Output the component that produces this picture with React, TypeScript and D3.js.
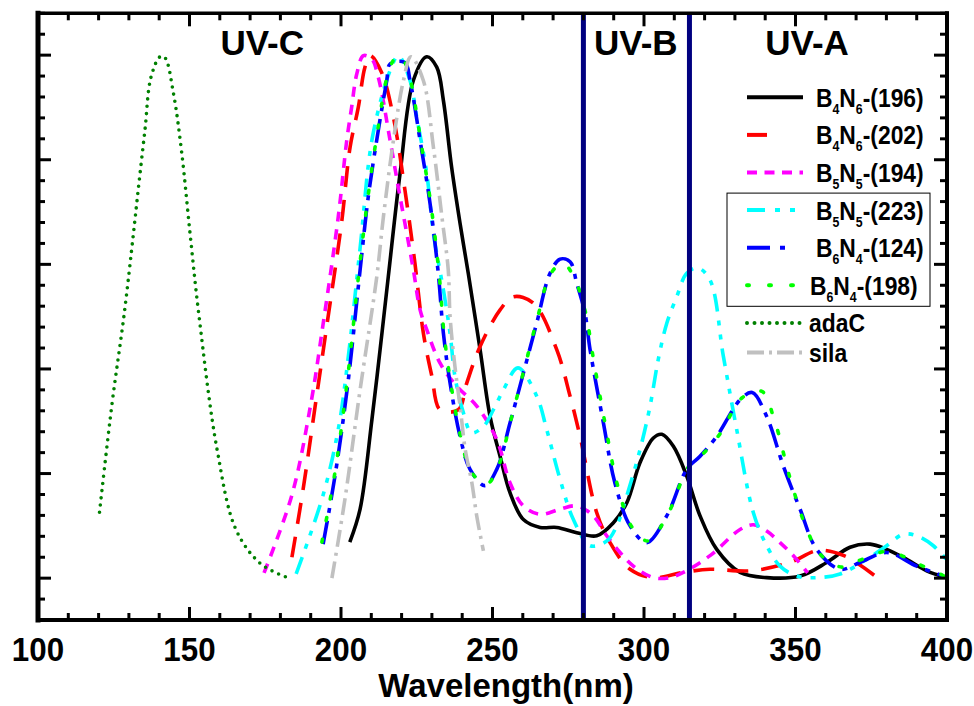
import React, { useEffect, useRef } from 'react';
import * as d3 from 'd3';

type Pt = [number, number];

// wavelength (nm), normalised absorbance
const b4n6_196: Pt[] = [
  [202.9, 0.069], [206.3, 0.132], [210.2, 0.303], [212.9, 0.437], [215.6, 0.576], [219.5, 0.774],
  [223.9, 0.952], [228.3, 0.997], [231.6, 0.977], [233.8, 0.913], [236.5, 0.786], [239.3, 0.678],
  [242.0, 0.583], [245.9, 0.437], [249.2, 0.309], [252.5, 0.233], [255.8, 0.163], [260.2, 0.112],
  [265.7, 0.097], [271.2, 0.097], [277.8, 0.087], [284.4, 0.081], [289.9, 0.106], [294.3, 0.144],
  [298.7, 0.221], [303.1, 0.268], [305.9, 0.275], [309.7, 0.252], [314.1, 0.195], [318.5, 0.119],
  [324.0, 0.055], [331.7, 0.011], [340.5, 0.001], [351.5, 0.004], [360.3, 0.030], [368.0, 0.059],
  [374.6, 0.065], [380.1, 0.055], [386.7, 0.036], [393.3, 0.014], [399.4, 0.002],
];

const b4n6_202: Pt[] = [
  [183.8, 0.040], [187.5, 0.170], [191.5, 0.330], [195.5, 0.490], [200.2, 0.680], [203.0, 0.824],
  [205.7, 0.900], [207.9, 0.977], [209.6, 0.999], [213.4, 0.967], [217.3, 0.881], [221.1, 0.742],
  [224.4, 0.602], [227.2, 0.468], [230.0, 0.386], [232.7, 0.322], [238.7, 0.322], [241.5, 0.373],
  [245.9, 0.443], [252.5, 0.513], [256.9, 0.538], [263.5, 0.526], [271.2, 0.437], [275.6, 0.348],
  [278.9, 0.271], [284.4, 0.125], [288.8, 0.068], [295.4, 0.017], [303.1, 0.001], [313.0, 0.011],
  [321.8, 0.017], [335.0, 0.014], [348.2, 0.030], [357.5, 0.053], [366.4, 0.042], [376.3, 0.004],
];

const b5n5_194: Pt[] = [
  [174.6, 0.010], [183.8, 0.159], [190.0, 0.332], [194.1, 0.486], [199.1, 0.691], [201.9, 0.837],
  [203.5, 0.900], [205.2, 0.964], [207.4, 0.999], [210.1, 0.993], [212.3, 0.958], [216.2, 0.837],
  [218.9, 0.748], [223.9, 0.589], [226.1, 0.513], [228.3, 0.475], [232.7, 0.411], [238.2, 0.367],
  [244.8, 0.329], [251.4, 0.265], [255.8, 0.182], [260.2, 0.138], [265.7, 0.122], [272.3, 0.132],
  [277.8, 0.138], [283.3, 0.119], [287.7, 0.081], [292.1, 0.049], [296.5, 0.023], [303.1, 0.001],
  [308.6, 0.001], [313.0, 0.011], [321.8, 0.043], [331.7, 0.093], [336.1, 0.102], [340.5, 0.090],
  [344.9, 0.068], [349.3, 0.043], [354.0, 0.010],
];

const b5n5_223: Pt[] = [
  [185.2, 0.008], [194.1, 0.159], [199.2, 0.288], [202.3, 0.418], [206.3, 0.631], [210.5, 0.847],
  [216.5, 0.975], [218.9, 0.999], [222.8, 0.951], [225.0, 0.881], [228.3, 0.774], [230.5, 0.659],
  [233.8, 0.551], [236.0, 0.468], [237.6, 0.386], [240.4, 0.316], [243.1, 0.278], [247.0, 0.290],
  [250.3, 0.322], [253.6, 0.360], [258.4, 0.402], [264.6, 0.348], [267.9, 0.284], [272.3, 0.189],
  [276.7, 0.112], [282.2, 0.062], [287.7, 0.071], [291.0, 0.100], [294.3, 0.157], [298.7, 0.246],
  [302.0, 0.329], [304.7, 0.418], [307.5, 0.487], [310.8, 0.538], [314.1, 0.583], [317.8, 0.593],
  [321.8, 0.570], [326.2, 0.424], [330.6, 0.284], [336.1, 0.125], [340.5, 0.062], [344.9, 0.023],
  [350.4, 0.004], [357.0, 0.001], [364.7, 0.008], [373.5, 0.036], [380.1, 0.062], [385.6, 0.084],
  [390.0, 0.081], [395.5, 0.062], [399.7, 0.036],
];

const b6n4_124: Pt[] = [
  [194.1, 0.065], [198.2, 0.202], [202.3, 0.374], [206.3, 0.589], [209.0, 0.729], [212.3, 0.856],
  [215.1, 0.951], [216.2, 0.983], [221.1, 0.986], [222.8, 0.951], [226.1, 0.837], [229.4, 0.716],
  [232.1, 0.583], [233.8, 0.468], [236.0, 0.373], [239.3, 0.271], [242.6, 0.208], [247.5, 0.177],
  [251.4, 0.208], [255.8, 0.297], [260.2, 0.392], [264.6, 0.488], [269.0, 0.583], [272.3, 0.610],
  [275.6, 0.605], [277.8, 0.564], [280.5, 0.507], [282.2, 0.437], [286.6, 0.297], [290.4, 0.182],
  [295.4, 0.100], [300.9, 0.068], [307.5, 0.119], [314.1, 0.208], [318.5, 0.233], [324.0, 0.271],
  [331.7, 0.341], [335.7, 0.355], [340.5, 0.309], [346.0, 0.214], [351.5, 0.132], [357.0, 0.055],
  [364.7, 0.017], [371.3, 0.030], [380.1, 0.049], [390.0, 0.023], [398.8, 0.004],
];

const b6n4_198: Pt[] = [
  [193.7, 0.069], [198.0, 0.202], [202.0, 0.374], [206.0, 0.589], [208.9, 0.729], [212.2, 0.860],
  [214.9, 0.951], [216.8, 0.985], [218.9, 1.000], [221.1, 0.986], [223.1, 0.948], [226.4, 0.833],
  [229.7, 0.713], [232.4, 0.580], [234.0, 0.468], [236.3, 0.370], [239.6, 0.268], [242.9, 0.204],
  [247.9, 0.179], [251.8, 0.212], [256.1, 0.303], [260.4, 0.398], [264.7, 0.494], [269.3, 0.583],
  [273.3, 0.602], [277.3, 0.570], [280.9, 0.503], [282.9, 0.433], [287.2, 0.294], [291.2, 0.179],
  [296.1, 0.097], [301.4, 0.071], [308.0, 0.124], [314.6, 0.212], [319.2, 0.236], [325.1, 0.276],
  [332.4, 0.345], [338.9, 0.357], [343.0, 0.303], [348.3, 0.189], [353.5, 0.097], [358.1, 0.046],
  [365.4, 0.021], [372.0, 0.036], [380.6, 0.051], [390.5, 0.027], [399.1, 0.004],
];

const adaC: Pt[] = [
  [120.3, 0.126], [124.4, 0.332], [128.4, 0.503], [131.5, 0.659], [133.1, 0.744], [135.3, 0.857],
  [137.3, 0.958], [140.3, 0.997], [141.9, 0.995], [144.7, 0.927], [147.4, 0.815], [150.2, 0.658],
  [153.1, 0.503], [159.1, 0.246], [165.4, 0.092], [173.6, 0.027], [182.8, 0.000],
];

const sila: Pt[] = [
  [197.0, 0.000], [201.3, 0.151], [206.3, 0.360], [211.8, 0.576], [214.0, 0.691], [217.3, 0.837],
  [220.6, 0.951], [223.1, 0.997], [227.2, 0.951], [230.5, 0.824], [233.3, 0.691], [235.4, 0.589],
  [236.0, 0.500], [237.6, 0.405], [239.3, 0.329], [241.0, 0.246], [243.2, 0.182], [244.8, 0.119],
  [247.0, 0.052],
];

const seriesNames = ['B4N6-(196)', 'B4N6-(202)', 'B5N5-(194)', 'B5N5-(223)', 'B6N4-(124)', 'B6N4-(198)', 'adaC', 'sila'];
const seriesData = [b4n6_196, b4n6_202, b5n5_194, b5n5_223, b6n4_124, b6n4_198, adaC, sila];

const xTickLabels = [100, 150, 200, 250, 300, 350, 400];
const uvBounds = [280, 315];
const uvLabels = ['UV-C', 'UV-B', 'UV-A'];

export default function App() {
  const svgRef = useRef<SVGSVGElement>(null);

  useEffect(() => {
    if (!svgRef.current) return;
    const width = 974;
    const height = 706;
    const left = 38, right = 947, top = 13.3, bottom = 620;
    const font = '"Liberation Sans", Arial, sans-serif';

    const svg = d3.select(svgRef.current);
    svg.selectAll('*').remove();
    svg.attr('width', width).attr('height', height).attr('viewBox', `0 0 ${width} ${height}`);
    svg.append('rect').attr('width', width).attr('height', height).attr('fill', '#fff');

    const x = d3.scaleLinear().domain([100, 400]).range([left, right]);
    const y = d3.scaleLinear().domain([-0.08, 1.08]).range([bottom, top]);

    const styles = [
      { color: '#000000', dash: null, cap: 'butt', legendDash: null },
      { color: '#FF0000', dash: '21,13', cap: 'butt', legendDash: '20,60' },
      { color: '#FF00FF', dash: '10,8', cap: 'butt', legendDash: '10,7.5' },
      { color: '#00FFFF', dash: '18,9,5,9,5,9', cap: 'butt', legendDash: '18,10,5,10,5,10' },
      { color: '#0000FF', dash: '24,8,5,8', cap: 'butt', legendDash: '23,10,5,30' },
      { color: '#00FF00', dash: '3,19', cap: 'round', legendDash: '2,20' },
      { color: '#008000', dash: '0,7.3', cap: 'round', legendDash: '0,7.5' },
      { color: '#C0C0C0', dash: '17,6,3,6', cap: 'butt', legendDash: '17,5,3,5' },
    ];

    const line = d3.line<Pt>()
      .x(d => x(d[0]))
      .y(d => y(d[1]))
      .curve(d3.curveCatmullRom.alpha(0.5));

    seriesData.forEach((data, i) => {
      const s = styles[i];
      const p = svg.append('path')
        .attr('d', line(data))
        .attr('fill', 'none')
        .attr('stroke', s.color)
        .attr('stroke-width', 3.6)
        .attr('stroke-linecap', s.cap)
        .attr('stroke-linejoin', 'round');
      if (s.dash) p.attr('stroke-dasharray', s.dash);
    });

    // UV band boundaries
    uvBounds.forEach(b => {
      svg.append('line')
        .attr('x1', x(b)).attr('x2', x(b))
        .attr('y1', top).attr('y2', bottom)
        .attr('stroke', '#000080')
        .attr('stroke-width', 5);
    });

    const uvLabelX = [174, 297.3, 353.8];
    uvLabels.forEach((t, i) => {
      svg.append('text')
        .attr('x', x(uvLabelX[i]))
        .attr('y', 55)
        .attr('text-anchor', 'middle')
        .attr('font-family', font)
        .attr('font-weight', 'bold')
        .attr('font-size', 35)
        .attr('fill', '#000')
        .text(t);
    });

    // ticks
    const ticks = svg.append('g').attr('stroke', '#000').attr('stroke-width', 3);
    d3.range(100, 401, 10).forEach(v => {
      const len = v % 50 === 0 ? 13 : 7;
      ticks.append('line').attr('x1', x(v)).attr('x2', x(v)).attr('y1', bottom).attr('y2', bottom - len);
      ticks.append('line').attr('x1', x(v)).attr('x2', x(v)).attr('y1', top).attr('y2', top + len);
    });
    d3.range(-2, 28).forEach(k => {
      const v = k * 0.04;
      const len = k % 5 === 0 ? 13 : 7;
      ticks.append('line').attr('x1', left).attr('x2', left + len).attr('y1', y(v)).attr('y2', y(v));
      ticks.append('line').attr('x1', right).attr('x2', right - len).attr('y1', y(v)).attr('y2', y(v));
    });

    // frame
    const frame = svg.append('g').attr('stroke', '#000').attr('stroke-linecap', 'square');
    frame.append('line').attr('x1', left).attr('x2', right).attr('y1', top).attr('y2', top).attr('stroke-width', 3.5);
    frame.append('line').attr('x1', left).attr('x2', right).attr('y1', bottom).attr('y2', bottom).attr('stroke-width', 4);
    frame.append('line').attr('x1', left).attr('x2', left).attr('y1', top).attr('y2', bottom).attr('stroke-width', 5);
    frame.append('line').attr('x1', right).attr('x2', right).attr('y1', top).attr('y2', bottom).attr('stroke-width', 4);

    xTickLabels.forEach(v => {
      svg.append('text')
        .attr('transform', `translate(${x(v)},661) scale(0.95,1)`)
        .attr('text-anchor', 'middle')
        .attr('font-family', font)
        .attr('font-weight', 'bold')
        .attr('font-size', 33)
        .text(v);
    });

    svg.append('text')
      .attr('x', 506)
      .attr('y', 697)
      .attr('text-anchor', 'middle')
      .attr('font-family', font)
      .attr('font-weight', 'bold')
      .attr('font-size', 33)
      .text('Wavelength(nm)');

    // legend
    const legend = svg.append('g');
    let ly = 97.3;
    const rows: number[] = [];
    seriesNames.forEach((name, i) => {
      rows.push(ly);
      const s = styles[i];
      const m = name.match(/^([A-Z])(\d)([A-Z])(\d)(.*)$/);
      const sample = legend.append('line')
        .attr('x1', 747).attr('x2', 803)
        .attr('y1', ly).attr('y2', ly)
        .attr('stroke', s.color)
        .attr('stroke-width', 4)
        .attr('stroke-linecap', s.cap);
      if (s.legendDash) sample.attr('stroke-dasharray', s.legendDash);

      const tx = m ? (i === 5 ? 810 : 816) : 809;
      const t = legend.append('text')
        .attr('transform', `translate(${tx},${ly + 9.4}) scale(0.88,1)`)
        .attr('font-family', font)
        .attr('font-weight', 'bold')
        .attr('font-size', 26);
      if (m) {
        t.append('tspan').text(m[1]);
        t.append('tspan').attr('font-size', 14).attr('dy', 7).text(m[2]);
        t.append('tspan').attr('dy', -7).text(m[3]);
        t.append('tspan').attr('font-size', 14).attr('dy', 7).text(m[4]);
        t.append('tspan').attr('dy', -7).text(m[5]);
      } else {
        t.text(name);
      }
      ly += m ? 37.6 : 29.7;
    });

    legend.append('rect')
      .attr('x', 727).attr('y', rows[3] - 17)
      .attr('width', 203).attr('height', rows[5] - rows[3] + 38)
      .attr('fill', 'none')
      .attr('stroke', '#000')
      .attr('stroke-width', 1);
  }, []);

  return (
    <div style={{ position: 'absolute', left: 0, top: 0 }}>
      <svg ref={svgRef}></svg>
    </div>
  );
}
